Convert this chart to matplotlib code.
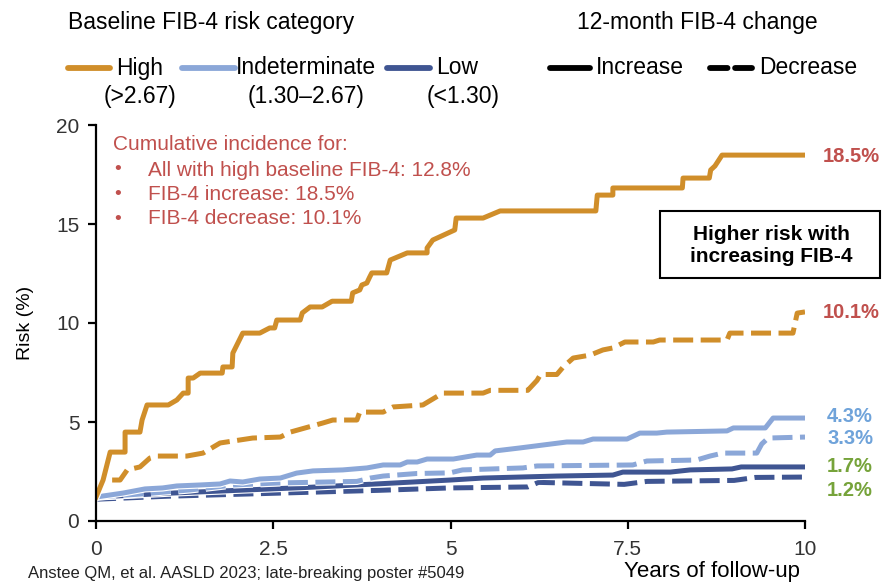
import matplotlib
matplotlib.use("Agg")
import matplotlib.pyplot as plt
import matplotlib.patheffects as pe
from matplotlib import font_manager
from matplotlib.lines import Line2D
from matplotlib.patches import Rectangle

# cumulative risk (%) by years of follow-up
high_inc_x = [0, 0.10, 0.20, 0.41, 0.41, 0.62, 0.65, 0.72, 1.02, 1.14, 1.23, 1.30, 1.30, 1.37, 1.47,
              1.78, 1.79, 1.92, 1.93, 2.07, 2.31, 2.45, 2.52, 2.55, 2.88, 2.91, 3.02, 3.19, 3.33,
              3.60, 3.62, 3.72, 3.75, 3.82, 3.86, 3.89, 4.10, 4.15, 4.39, 4.67, 4.67, 4.75, 5.06,
              5.08, 5.46, 5.70, 7.05, 7.07, 7.29, 7.29, 8.27, 8.28, 8.65, 8.67, 8.73, 8.83, 10.0]
high_inc_y = [1.21, 2.07, 3.48, 3.48, 4.49, 4.49, 5.10, 5.86, 5.86, 6.11, 6.46, 6.46, 7.22, 7.22, 7.47,
              7.47, 7.78, 7.78, 8.48, 9.49, 9.49, 9.75, 9.75, 10.15, 10.15, 10.51, 10.81, 10.81, 11.10,
              11.10, 11.52, 11.67, 11.92, 12.02, 12.32, 12.53, 12.53, 13.18, 13.54, 13.54, 13.79, 14.19, 14.70,
              15.30, 15.30, 15.66, 15.66, 16.46, 16.46, 16.82, 16.82, 17.32, 17.32, 17.73, 17.93, 18.48, 18.48]

high_dec_x = [0, 0.10, 0.34, 0.44, 0.62, 0.76, 0.86, 1.28, 1.51, 1.75, 2.21, 2.60, 2.74, 3.20, 3.34,
              3.68, 3.72, 4.05, 4.19, 4.61, 4.89, 5.46, 5.56, 6.09, 6.22, 6.27, 6.50, 6.59, 6.73,
              6.97, 7.15, 7.29, 7.46, 7.86, 7.95, 8.90, 8.94, 9.83, 9.89, 10.0]
high_dec_y = [1.21, 2.07, 2.07, 2.58, 2.73, 3.18, 3.28, 3.28, 3.43, 3.94, 4.19, 4.24, 4.49, 4.95, 5.10,
              5.10, 5.50, 5.50, 5.76, 5.86, 6.46, 6.46, 6.60, 6.60, 7.10, 7.40, 7.40, 7.78, 8.23,
              8.38, 8.64, 8.74, 9.04, 9.04, 9.14, 9.14, 9.49, 9.49, 10.50, 10.56]

ind_inc_x = [0, 0.38, 0.69, 0.94, 1.14, 1.47, 1.75, 1.89, 2.07, 2.31, 2.60, 2.83, 3.06, 3.48, 3.82,
             4.05, 4.29, 4.39, 4.53, 4.67, 5.04, 5.37, 5.56, 5.63, 5.98, 6.64, 6.87, 7.01, 7.49,
             7.67, 7.91, 8.05, 8.90, 8.99, 9.44, 9.55, 10.0]
ind_inc_y = [1.21, 1.41, 1.62, 1.67, 1.77, 1.82, 1.87, 2.02, 1.97, 2.12, 2.17, 2.42, 2.53, 2.58, 2.68,
             2.83, 2.83, 2.98, 2.98, 3.13, 3.13, 3.33, 3.33, 3.54, 3.69, 3.99, 3.99, 4.14, 4.14,
             4.44, 4.44, 4.49, 4.55, 4.70, 4.70, 5.20, 5.20]

ind_dec_x = [0, 0.62, 1.33, 1.94, 2.57, 3.68, 3.87, 4.05, 4.53, 4.99, 5.17, 6.02, 6.22, 7.57, 7.77,
             8.47, 8.66, 8.84, 9.32, 9.39, 9.48, 10.0]
ind_dec_y = [1.21, 1.36, 1.57, 1.82, 1.92, 2.00, 2.17, 2.27, 2.40, 2.43, 2.58, 2.68, 2.78, 2.83, 3.03,
             3.08, 3.28, 3.43, 3.43, 3.89, 4.19, 4.24]

low_inc_x = [0, 1, 2, 3, 4, 5, 5.46, 6.5, 7.29, 7.43, 8.10, 8.38, 8.97, 9.10, 10.0]
low_inc_y = [1.21, 1.40, 1.55, 1.70, 1.88, 2.07, 2.17, 2.27, 2.32, 2.47, 2.47, 2.58, 2.63, 2.73, 2.73]

low_dec_x = [0, 1, 2, 3, 4, 4.99, 6.09, 6.24, 6.60, 7.45, 7.77, 9.00, 9.30, 10.0]
low_dec_y = [1.10, 1.25, 1.35, 1.45, 1.55, 1.67, 1.72, 1.95, 1.92, 1.85, 2.00, 2.05, 2.20, 2.22]

end_labels = ["18.5%", "10.1%", "4.3%", "3.3%", "1.7%", "1.2%"]
x_ticks = [0, 2.5, 5, 7.5, 10]
x_tick_labels = ["0", "2.5", "5", "7.5", "10"]
y_ticks = [0, 5, 10, 15, 20]

ORANGE = "#D08E2A"
LIGHT = "#8BA7D8"
DARK = "#3F5592"
RED = "#C0504D"
SKY = "#6FA3DA"
GREEN = "#76A33A"

installed = {f.name for f in font_manager.fontManager.ttflist}
narrow = "Liberation Sans Narrow" if "Liberation Sans Narrow" in installed else "Liberation Sans"
plt.rcParams["font.family"] = ["Liberation Sans", "DejaVu Sans"]

fig = plt.figure(figsize=(8.85, 5.83), dpi=100)
ax = fig.add_axes([96 / 885, 62 / 583, 709 / 885, 396 / 583])

halo = [pe.withStroke(linewidth=5.2, foreground="white")]
lw = 3.6
dash = (4, 1.5)

ax.plot(low_dec_x, low_dec_y, color=DARK, lw=lw, dashes=dash, path_effects=halo)
ax.plot(low_inc_x, low_inc_y, color=DARK, lw=lw, path_effects=halo)
ax.plot(ind_dec_x, ind_dec_y, color=LIGHT, lw=lw, dashes=dash, path_effects=halo)
ax.plot(ind_inc_x, ind_inc_y, color=LIGHT, lw=lw, path_effects=halo)
ax.plot(high_dec_x, high_dec_y, color=ORANGE, lw=lw, dashes=dash, path_effects=halo)
ax.plot(high_inc_x, high_inc_y, color=ORANGE, lw=lw, path_effects=halo)

ax.set_xlim(0, 10)
ax.set_ylim(0, 20)
ax.set_xticks(x_ticks)
ax.set_xticklabels(x_tick_labels)
ax.set_yticks(y_ticks)
for side in ("top", "right"):
    ax.spines[side].set_visible(False)
for side in ("left", "bottom"):
    ax.spines[side].set_linewidth(1.6)
ax.tick_params(direction="out", length=6, width=1.6, labelsize=15, colors="black")
ax.tick_params(axis="x", pad=8)
ax.tick_params(axis="y", pad=6)
for lab in ax.get_xticklabels() + ax.get_yticklabels():
    lab.set_family(narrow)
    lab.set_color("#333333")

ax.set_ylabel("Risk (%)", fontsize=14, labelpad=16)
fig.text(800 / 885, 1 - 572 / 583, "Years of follow-up", ha="right", va="center",
         fontsize=16, family=narrow)

# end-of-follow-up values
label_pos = [(823, 157, RED), (823, 312, RED), (827, 417, SKY),
             (827, 439, SKY), (827, 466, GREEN), (827, 490, GREEN)]
for text, (px, py, col) in zip(end_labels, label_pos):
    fig.text(px / 885, 1 - py / 583, text, ha="left", va="center",
             fontsize=14.5, fontweight="bold", color=col)

# cumulative incidence note
fig.text(113 / 885, 1 - 145 / 583, "Cumulative incidence for:", fontsize=15,
         color=RED, va="center")
notes = ["All with high baseline FIB-4: 12.8%", "FIB-4 increase: 18.5%", "FIB-4 decrease: 10.1%"]
for i, note in enumerate(notes):
    y = 1 - (170 + 24.5 * i) / 583
    fig.text(114 / 885, y, "\u2022", fontsize=14, color=RED, va="center")
    fig.text(148 / 885, y, note, fontsize=15, color=RED, va="center")

# callout box
fig.add_artist(Rectangle((660 / 885, 1 - 278 / 583), 220 / 885, 67 / 583,
                         transform=fig.transFigure, fill=False, edgecolor="black", lw=1.5))
fig.text(771 / 885, 1 - 246 / 583, "Higher risk with\nincreasing FIB-4", ha="center",
         va="center", fontsize=15, fontweight="bold", linespacing=1.2)

# legend headings
fig.text(68 / 885, 1 - 22 / 583, "Baseline FIB-4 risk category", fontsize=16.5,
         family=narrow, va="center")
fig.text(577 / 885, 1 - 22 / 583, "12-month FIB-4 change", fontsize=16.5,
         family=narrow, va="center")

legend_lines = [(68, 110, ORANGE, None), (182, 235, LIGHT, None), (387, 430, DARK, None),
                (550, 590, "black", None), (710, 752, "black", (3, 1.3))]
for x0, x1, col, dsh in legend_lines:
    ln = Line2D([x0 / 885, x1 / 885], [1 - 68 / 583] * 2, transform=fig.transFigure,
                color=col, lw=4.2, solid_capstyle="round", dash_capstyle="round")
    if dsh:
        ln.set_dashes(dsh)
    fig.add_artist(ln)

legend_text = [(116, 68, "High"), (236, 68, "Indeterminate"), (436, 68, "Low"),
               (596, 68, "Increase"), (759, 68, "Decrease"),
               (104, 96, "(>2.67)"), (248, 96, "(1.30\u20132.67)"), (427, 96, "(<1.30)")]
for px, py, text in legend_text:
    fig.text(px / 885, 1 - py / 583, text, fontsize=16.5, family=narrow, va="center")

fig.text(28 / 885, 2 / 583, "Anstee QM, et al. AASLD 2023; late-breaking poster #5049",
         fontsize=12, family=narrow, va="bottom", color="#222222")

fig.savefig("out.png", dpi=100)
